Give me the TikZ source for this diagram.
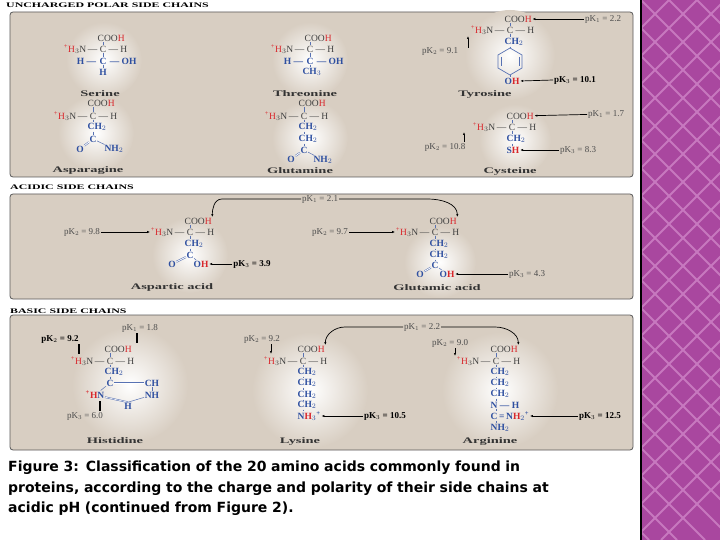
\documentclass[tikz,border=0pt]{standalone}
\usepackage{fontspec}
\setmainfont{Liberation Serif}
\newfontfamily\capfont{DejaVu Sans}
\usetikzlibrary{arrows.meta,positioning}
\definecolor{panelbg}{HTML}{D8CEC2}
\definecolor{atomblue}{HTML}{2E4FA0}
\definecolor{hred}{HTML}{D8262B}
\definecolor{stripbg}{HTML}{A9479F}
\definecolor{stripln}{HTML}{C778BF}
\tikzset{
  panel/.style={draw=gray!70!black,fill=panelbg,rounded corners=3pt,line width=0.8pt},
  hdr/.style={anchor=west,font=\fontsize{7}{7}\selectfont\bfseries,inner sep=0pt},
  atm/.style={font=\fontsize{9.5}{9.5}\selectfont,inner sep=0.5pt,text=black!75},
  sc/.style={atm,text=atomblue,font=\fontsize{9.5}{9.5}\selectfont\bfseries},
  pk/.style={font=\fontsize{9}{9}\selectfont,inner sep=0.8pt,text=black!70},
  pkb/.style={pk,font=\fontsize{9}{9}\selectfont\bfseries,text=black},
  aaname/.style={font=\fontsize{8.5}{8.5}\selectfont\bfseries,text=black!80},
  bond/.style={atomblue!80,line width=0.5pt},
  pkarrow/.style={-{Latex[length=3pt]},line width=0.7pt},
  glow/.style={inner color=white,outer color=panelbg}
}
\newcommand{\Hp}{\textcolor{hred}{\textsuperscript{+}H}}
\newcommand{\Hr}{\textcolor{hred}{H}}
\newcommand{\wide}[1]{\scalebox{1.7}[1]{#1}}
\begin{document}
\begin{tikzpicture}[x=1pt,y=-1pt]
\useasboundingbox (0,0) rectangle (720,540);
\fill[white] (0,0) rectangle (720,540);
% purple strip
\fill[stripbg] (641,0) rectangle (720,540);
\begin{scope}
\clip (641,0) rectangle (720,540);
\foreach \k in {-20,...,20} {
  \draw[stripln,line width=2pt] (641+\k*28,0) -- ++(540,540);
  \draw[stripln,line width=2pt] (641+\k*28,0) -- ++(-540,540);
}
\end{scope}
\draw[black,line width=1.2pt] (641,0) -- (641,540);

% panels and headers
\node[hdr] at (6,5) {\wide{UNCHARGED POLAR SIDE CHAINS}};
\draw[panel] (10,12) rectangle (633,177);
\node[hdr] at (10,187) {\wide{ACIDIC SIDE CHAINS}};
\draw[panel] (10,194) rectangle (633,299);
\node[hdr] at (10,311) {\wide{BASIC SIDE CHAINS}};
\draw[panel] (10,315) rectangle (633,450);

% glows
\foreach \cx/\cy/\r in {104/60/38, 310/60/38, 510/55/45, 96/133/38, 310/138/38, 515/140/36,
                        190/255/38, 440/262/36, 130/385/58, 310/390/58, 500/390/58}
  \shade[glow] (\cx,\cy) circle (\r);

% ---------- Serine
\node[atm] (serC) at (103,49) {C};
\node[atm,anchor=west] (serCOOH) at (97,38) {COO\Hr};
\node[atm,left=1pt of serC] (serN) {\Hp$_3$N\,---};
\node[atm,right=1pt of serC] {--- H};
\node[sc] (serCb) at (103,61) {C};
\node[sc,left=2pt of serCb] {H ---};
\node[sc,right=2pt of serCb] {--- OH};
\node[sc] (serH) at (103,72) {H};
\draw[bond] (serC) -- (serC |- serCOOH.south); \draw[bond] (serC) -- (serCb); \draw[bond] (serCb) -- (serH);
\node[aaname] at (100,94) {\wide{Serine}};

% ---------- Threonine
\node[atm] (thrC) at (310,49) {C};
\node[atm,anchor=west] (thrCOOH) at (304,38) {COO\Hr};
\node[atm,left=1pt of thrC] {\Hp$_3$N\,---};
\node[atm,right=1pt of thrC] {--- H};
\node[sc] (thrCb) at (310,61) {C};
\node[sc,left=2pt of thrCb] {H ---};
\node[sc,right=2pt of thrCb] {--- OH};
\node[sc] (thrCH) at (312,72) {CH$_3$};
\draw[bond] (thrC) -- (thrC |- thrCOOH.south); \draw[bond] (thrC) -- (thrCb); \draw[bond] (thrCb) -- (thrCb |- thrCH.north);
\node[aaname] at (305,94) {\wide{Threonine}};

% ---------- Tyrosine
\node[atm] (tyrC) at (510,30) {C};
\node[atm,anchor=west] (tyrCOOH) at (504,19) {COO\Hr};
\node[atm,left=1pt of tyrC] (tyrN) {\Hp$_3$N\,---};
\node[atm,right=1pt of tyrC] {--- H};
\node[sc,anchor=west] (tyrCH) at (504,42) {CH$_2$};
\draw[bond,line width=0.7pt] (510,48) -- (522,55) -- (522,68) -- (510,75) -- (498,68) -- (498,55) -- cycle;
\draw[bond] (501,57) -- (501,66); \draw[bond] (519,57) -- (519,66);
\node[sc,anchor=west] (tyrOH) at (504,81) {O\Hr};
\draw[bond] (tyrC) -- (tyrC |- tyrCOOH.south); \draw[bond] (tyrC) -- (tyrC |- tyrCH.north); \draw[bond] (tyrC |- tyrCH.south) -- (510,48); \draw[bond] (510,75) -- (tyrC |- tyrOH.north);
\node[pk] (tyrpa) at (603,19) {pK$_1$ = 2.2};
\node[pk] (tyrpb) at (440,51) {pK$_2$ = 9.1};
\node[pkb] (tyrpc) at (575,80) {pK$_3$ = 10.1};
\draw[pkarrow] (tyrpa) -- (tyrCOOH);
\draw[pkarrow] (468,48) -- (468,36);
\draw[pkarrow] (tyrpc.west) -- (tyrOH.east);
\node[aaname] at (485,94) {\wide{Tyrosine}};

% ---------- Asparagine
\node[atm] (asnC) at (93,116) {C};
\node[atm,anchor=west] (asnCOOH) at (87,103) {COO\Hr};
\node[atm,left=1pt of asnC] {\Hp$_3$N\,---};
\node[atm,right=1pt of asnC] {--- H};
\node[sc,anchor=west] (asnCH) at (87,127) {CH$_2$};
\node[sc] (asnCg) at (93,139) {C};
\node[sc] (asnO) at (80,149) {O};
\node[sc] (asnNH) at (114,149) {NH$_2$};
\draw[bond] (asnC) -- (asnC |- asnCOOH.south); \draw[bond] (asnC) -- (asnC |- asnCH.north); \draw[bond] (asnC |- asnCH.south) -- (asnCg);
\draw[bond,double,double distance=0.8pt] (asnCg) -- (asnO); \draw[bond] (asnCg) -- (asnNH);
\node[aaname] at (88,170) {\wide{Asparagine}};

% ---------- Glutamine
\node[atm] (glnC) at (304,116) {C};
\node[atm,anchor=west] (glnCOOH) at (298,103) {COO\Hr};
\node[atm,left=1pt of glnC] {\Hp$_3$N\,---};
\node[atm,right=1pt of glnC] {--- H};
\node[sc,anchor=west] (glnCH1) at (298,127) {CH$_2$};
\node[sc,anchor=west] (glnCH2) at (298,139) {CH$_2$};
\node[sc] (glnCg) at (304,150) {C};
\node[sc] (glnO) at (291,159) {O};
\node[sc] (glnNH) at (323,160) {NH$_2$};
\draw[bond] (glnC) -- (glnC |- glnCOOH.south); \draw[bond] (glnC) -- (glnC |- glnCH1.north); \draw[bond] (glnC |- glnCH1.south) -- (glnC |- glnCH2.north); \draw[bond] (glnC |- glnCH2.south) -- (glnCg);
\draw[bond,double,double distance=0.8pt] (glnCg) -- (glnO); \draw[bond] (glnCg) -- (glnNH);
\node[aaname] at (300,171) {\wide{Glutamine}};

% ---------- Cysteine
\node[atm] (cysC) at (512,127) {C};
\node[atm,anchor=west] (cysCOOH) at (506,116) {COO\Hr};
\node[atm,left=1pt of cysC] (cysN) {\Hp$_3$N\,---};
\node[atm,right=1pt of cysC] {--- H};
\node[sc,anchor=west] (cysCH) at (506,139) {CH$_2$};
\node[sc,anchor=west] (cysSH) at (506,150) {S\Hr};
\draw[bond] (cysC) -- (cysC |- cysCOOH.south); \draw[bond] (cysC) -- (cysC |- cysCH.north); \draw[bond] (cysC |- cysCH.south) -- (cysC |- cysSH.north);
\node[pk] (cyspa) at (606,114) {pK$_1$ = 1.7};
\node[pk] (cyspb) at (445,147) {pK$_2$ = 10.8};
\node[pk] (cyspc) at (578,150) {pK$_3$ = 8.3};
\draw[pkarrow] (cyspa) -- (cysCOOH);
\draw[pkarrow] (464,142) -- (464,132);
\draw[pkarrow] (cyspc) -- (cysSH);
\node[aaname] at (510,171) {\wide{Cysteine}};

% ---------- Aspartic acid
\node[atm] (aspC) at (190,232) {C};
\node[atm,anchor=west] (aspCOOH) at (184,221) {COO\Hr};
\node[atm,left=1pt of aspC] (aspN) {\Hp$_3$N\,---};
\node[atm,right=1pt of aspC] {--- H};
\node[sc,anchor=west] (aspCH) at (184,244) {CH$_2$};
\node[sc] (aspCg) at (190,255) {C};
\node[sc] (aspO) at (172,264) {O};
\node[sc] (aspOH) at (201,264) {O\Hr};
\draw[bond] (aspC) -- (aspC |- aspCOOH.south); \draw[bond] (aspC) -- (aspC |- aspCH.north); \draw[bond] (aspC |- aspCH.south) -- (aspCg);
\draw[bond,double,double distance=0.8pt] (aspCg) -- (aspO); \draw[bond] (aspCg) -- (aspOH);
\node[pk] (asppb) at (82,232) {pK$_2$ = 9.8};
\node[pkb] (asppc) at (252,264) {pK$_3$ = 3.9};
\draw[pkarrow] (asppb) -- (aspN);
\draw[pkarrow] (asppc) -- (aspOH);
\node[aaname] at (172,287) {\wide{Aspartic acid}};

% ---------- Glutamic acid
\node[atm] (gluC) at (435,232) {C};
\node[atm,anchor=west] (gluCOOH) at (429,221) {COO\Hr};
\node[atm,left=1pt of gluC] (gluN) {\Hp$_3$N\,---};
\node[atm,right=1pt of gluC] {--- H};
\node[sc,anchor=west] (gluCH1) at (429,244) {CH$_2$};
\node[sc,anchor=west] (gluCH2) at (429,255) {CH$_2$};
\node[sc] (gluCg) at (435,265) {C};
\node[sc] (gluO) at (420,274) {O};
\node[sc] (gluOH) at (447,274) {O\Hr};
\draw[bond] (gluC) -- (gluC |- gluCOOH.south); \draw[bond] (gluC) -- (gluC |- gluCH1.north); \draw[bond] (gluC |- gluCH1.south) -- (gluC |- gluCH2.north); \draw[bond] (gluC |- gluCH2.south) -- (gluCg);
\draw[bond,double,double distance=0.8pt] (gluCg) -- (gluO); \draw[bond] (gluCg) -- (gluOH);
\node[pk] (glupb) at (330,232) {pK$_2$ = 9.7};
\node[pk] (glupc) at (527,274) {pK$_3$ = 4.3};
\draw[pkarrow] (glupb) -- (gluN);
\draw[pkarrow] (glupc) -- (gluOH);
\node[aaname] at (437,288) {\wide{Glutamic acid}};

% shared pK1 of the acids
\node[pk] (acidpa) at (320,199) {pK$_1$ = 2.1};
\draw[pkarrow] (acidpa.west) -- (222,199) to[out=180,in=90] (aspCOOH.north east);
\draw[pkarrow] (acidpa.east) -- (428,199) to[out=0,in=90] (gluCOOH.north east);

% ---------- Histidine
\node[atm] (hisC) at (110,361) {C};
\node[atm,anchor=west] (hisCOOH) at (104,349) {COO\Hr};
\node[atm,left=1pt of hisC] (hisN) {\Hp$_3$N\,---};
\node[atm,right=1pt of hisC] {--- H};
\node[sc,anchor=west] (hisCH) at (104,372) {CH$_2$};
\node[sc] (hisCg) at (110,383) {C};
\node[sc] (hisCH2) at (152,383) {CH};
\node[sc] (hisNa) at (95,395) {\Hp N};
\node[sc] (hisNb) at (152,395) {NH};
\node[sc] (hisHe) at (128,406) {H};
\draw[bond] (hisC) -- (hisC |- hisCOOH.south); \draw[bond] (hisC) -- (hisC |- hisCH.north); \draw[bond] (hisC |- hisCH.south) -- (hisCg);
\draw[bond,double,double distance=0.8pt] (hisCg) -- (hisCH2);
\draw[bond] (hisCg) -- (hisNa); \draw[bond] (hisCH2) -- (hisNb);
\draw[bond,double,double distance=0.6pt] (hisNa) -- (hisHe.north); \draw[bond] (hisHe.north) -- (hisNb);
\node[pk] (hispa) at (140,328) {pK$_1$ = 1.8};
\node[pkb] (hispb) at (60,339) {pK$_2$ = 9.2};
\node[pk] (hispc) at (85,416) {pK$_3$ = 6.0};
\draw[line width=1.3pt] (137,333) -- (137,343);
\draw[line width=1.3pt] (79,344) -- (79,354);
\draw[line width=1.3pt] (100,411) -- (100,401);
\node[aaname] at (115,441) {\wide{Histidine}};

% ---------- Lysine
\node[atm] (lysC) at (303,361) {C};
\node[atm,anchor=west] (lysCOOH) at (297,349) {COO\Hr};
\node[atm,left=1pt of lysC] (lysN) {\Hp$_3$N\,---};
\node[atm,right=1pt of lysC] {--- H};
\foreach \i/\y in {1/372,2/383,3/395,4/405}
  \node[sc,anchor=west] (lysCH\i) at (297,\y) {CH$_2$};
\node[sc,anchor=west] (lysNH) at (297,416) {N\Hr$_3$\textsuperscript{+}};
\draw[bond] (lysC) -- (lysC |- lysCOOH.south); \draw[bond] (lysC) -- (lysC |- lysCH1.north);
\foreach \i [count=\j from 2] in {1,2,3}
  \draw[bond] (lysC |- lysCH\i.south) -- (lysC |- lysCH\j.north);
\draw[bond] (lysC |- lysCH4.south) -- (lysC |- lysNH.north);
\node[pk] (lyspb) at (262,339) {pK$_2$ = 9.2};
\node[pkb] (lyspc) at (385,416) {pK$_3$ = 10.5};
\draw[pkarrow] (271,344) -- (271,354);
\draw[pkarrow] (lyspc) -- (lysNH);
\node[aaname] at (300,441) {\wide{Lysine}};

% ---------- Arginine
\node[atm] (argC) at (496,361) {C};
\node[atm,anchor=west] (argCOOH) at (490,349) {COO\Hr};
\node[atm,left=1pt of argC] (argN) {\Hp$_3$N\,---};
\node[atm,right=1pt of argC] {--- H};
\foreach \i/\y in {1/372,2/383,3/394}
  \node[sc,anchor=west] (argCH\i) at (490,\y) {CH$_2$};
\node[sc,anchor=west] (argNH) at (490,405) {N --- H};
\node[sc,anchor=west] (argCN) at (490,416) {C\,=\,N\Hr$_2$\textsuperscript{+}};
\node[sc,anchor=west] (argNH2) at (490,428) {NH$_2$};
\draw[bond] (argC) -- (argC |- argCOOH.south); \draw[bond] (argC) -- (argC |- argCH1.north);
\foreach \a/\b in {CH1/CH2,CH2/CH3,CH3/NH,NH/CN,CN/NH2}
  \draw[bond] (argC |- arg\a.south) -- (argC |- arg\b.north);
\node[pk] (argpb) at (450,343) {pK$_2$ = 9.0};
\node[pkb] (argpc) at (600,416) {pK$_3$ = 12.5};
\draw[pkarrow] (455,348) -- (455,356);
\draw[pkarrow] (argpc) -- (argCN);
\node[aaname] at (490,441) {\wide{Arginine}};

% shared pK1 of lysine and arginine
\node[pk] (basepa) at (422,327) {pK$_1$ = 2.2};
\draw[pkarrow] (basepa.west) -- (345,327) to[out=180,in=90] (lysCOOH.north east);
\draw[pkarrow] (basepa.east) -- (495,327) to[out=0,in=90] (argCOOH.north east);

% caption
\node[anchor=north west,align=left,text width=625pt,inner sep=0pt,
      font=\capfont\bfseries\fontsize{14}{20.5}\selectfont] (caption) at (8,461)
  {Figure 3: Classification of the 20 amino acids commonly found in\\ proteins, according to the charge and polarity of their side chains at\\ acidic pH (continued from Figure 2).};
\end{tikzpicture}
\end{document}
